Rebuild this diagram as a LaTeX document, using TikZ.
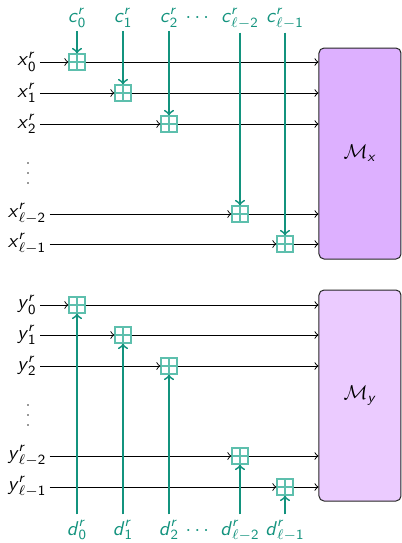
\documentclass[tikz,border=0pt]{standalone}
\usepackage{amsmath}
\definecolor{keyteal}{HTML}{13937E}
\definecolor{xorteal}{HTML}{5DBFAD}
\definecolor{mxfill}{HTML}{DDB0FF}
\definecolor{myfill}{HTML}{EBCBFF}
% sans-serif variables and digits inside math
\newcommand{\sfv}[1]{\textsf{\textit{#1}}}
\newcommand{\sfn}[1]{\textsf{#1}}
\newcommand{\wlab}[2]{$\sfv{#1}^{\sfv{r}}_{#2}$}
\begin{document}
\begin{tikzpicture}[x=0.5pt,y=-0.5pt,
  xorbox/.style={draw=xorteal, line width=0.6pt, fill=white,
    minimum size=8pt, inner sep=0pt,
    path picture={
      \draw[xorteal, line width=0.6pt]
        (path picture bounding box.north) -- (path picture bounding box.south)
        (path picture bounding box.west) -- (path picture bounding box.east);}},
  wire/.style={->, line width=0.5pt},
  keyline/.style={->, keyteal, line width=0.9pt},
  keylbl/.style={text=keyteal, anchor=base, inner sep=1pt},
  rowlbl/.style={inner sep=1.5pt},
  rowdot/.style={fill=black!80, circle, inner sep=0pt, minimum size=0.9pt},
  block/.style={draw=black!85, line width=0.5pt, rounded corners=2.5pt,
    minimum width=41pt, inner sep=0pt}]
\useasboundingbox (0,0) rectangle (402,543);

% ---------- x half ----------
\node[block, fill=mxfill, minimum height=105.5pt] (Mx) at (360,153.5) {$\mathcal{M}_{\sfv{x}}$};

\node[rowlbl] (lx0) at (27,62)  {\wlab{x}{\sfn{0}}};
\node[rowlbl] (lx1) at (27,93)  {\wlab{x}{\sfn{1}}};
\node[rowlbl] (lx2) at (27,124) {\wlab{x}{\sfn{2}}};
\node[rowlbl] (lx3) at (27,214) {\wlab{x}{\ell-\sfn{2}}};
\node[rowlbl] (lx4) at (27,244) {\wlab{x}{\ell-\sfn{1}}};
% vertical ellipsis between the rows
\foreach \k/\yy in {a/163,b/173,c/183} \node[rowdot] (vx\k) at (28,\yy) {};

\node[xorbox] (bx0) at (77,62)   {};
\node[xorbox] (bx1) at (123,93)  {};
\node[xorbox] (bx2) at (169,124) {};
\node[xorbox] (bx3) at (240,214) {};
\node[xorbox] (bx4) at (285,244) {};

\node[keylbl] (c0) at (77,22)  {\wlab{c}{\sfn{0}}};
\node[keylbl] (c1) at (123,22) {\wlab{c}{\sfn{1}}};
\node[keylbl] (c2) at (169,22) {\wlab{c}{\sfn{2}}};
\node[keylbl] (cd) at (199,22) {$\cdots$};
\node[keylbl] (c3) at (240,22) {\wlab{c}{\ell-\sfn{2}}};
\node[keylbl] (c4) at (285,22) {\wlab{c}{\ell-\sfn{1}}};

\foreach \i in {0,...,4} {
  \draw[wire] (lx\i) -- (bx\i);
  \draw[wire] (bx\i) -- (bx\i -| Mx.west);
}
\foreach \i in {0,...,4} {
  \draw[keyline, shorten <=0.5pt] (c\i.south) -- (bx\i.north);
}

% ---------- y half ----------
\node[block, fill=myfill, minimum height=105.5pt] (My) at (360,395.5) {$\mathcal{M}_{\sfv{y}}$};

\node[rowlbl] (ly0) at (27,305) {\wlab{y}{\sfn{0}}};
\node[rowlbl] (ly1) at (27,335) {\wlab{y}{\sfn{1}}};
\node[rowlbl] (ly2) at (27,366) {\wlab{y}{\sfn{2}}};
\node[rowlbl] (ly3) at (27,456) {\wlab{y}{\ell-\sfn{2}}};
\node[rowlbl] (ly4) at (27,487) {\wlab{y}{\ell-\sfn{1}}};
\foreach \k/\yy in {a/405,b/415,c/425} \node[rowdot] (vy\k) at (28,\yy) {};

\node[xorbox] (by0) at (77,305)  {};
\node[xorbox] (by1) at (123,335) {};
\node[xorbox] (by2) at (169,366) {};
\node[xorbox] (by3) at (240,456) {};
\node[xorbox] (by4) at (285,487) {};

\node[keylbl] (d0) at (77,535)  {\wlab{d}{\sfn{0}}};
\node[keylbl] (d1) at (123,535) {\wlab{d}{\sfn{1}}};
\node[keylbl] (d2) at (169,535) {\wlab{d}{\sfn{2}}};
\node[keylbl] (dd) at (199,535) {$\cdots$};
\node[keylbl] (d3) at (240,535) {\wlab{d}{\ell-\sfn{2}}};
\node[keylbl] (d4) at (285,535) {\wlab{d}{\ell-\sfn{1}}};

\foreach \i in {0,...,4} {
  \draw[wire] (ly\i) -- (by\i);
  \draw[wire] (by\i) -- (by\i -| My.west);
}
\foreach \i in {0,...,4} {
  \draw[keyline, shorten <=1.5pt] (d\i.north) -- (by\i.south);
}
\end{tikzpicture}
\end{document}
